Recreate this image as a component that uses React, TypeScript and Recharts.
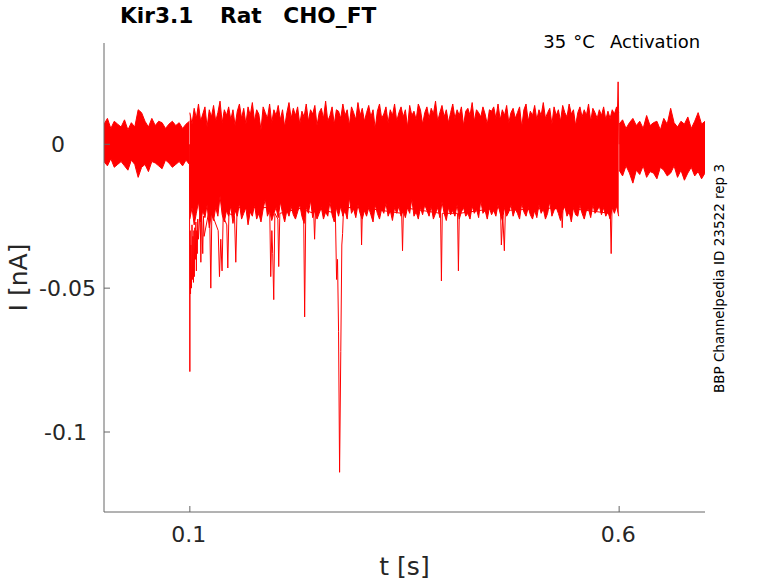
import React from "react";
import { ComposedChart, Area, Line, XAxis, YAxis } from "recharts";

// Current in pA (axis labels show nA), time in s
const X_TICKS = [0.1, 0.6];
const Y_TICKS_PA = [-100, -50, 0];

// Envelope of the sweeps before the step (0 - 0.0995 s)
const PRE_HI = [7, 9, 5.5, 8, 7, 6, 8.5, 5, 7.5, 6, 12, 11, 8, 6, 9, 6.5, 8, 7.5, 5.5, 7, 8, 6.5, 7.5, 5.5, 7, 8];
const PRE_LO = [-6, -7.5, -5, -8, -7, -6, -7.5, -9, -5.5, -7, -11.5, -8, -7, -9.5, -6, -6.5, -7.5, -8.5, -5.5, -6.5, -8, -7, -6, -7.5, -5.5, -7];

// Envelope during the step (0.1 - 0.5995 s)
const STEP_HI = [
  11, 7, 12.5, 9, 14, 8, 10.5, 13, 6, 12,
  9.5, 13.5, 8, 11, 15, 7.5, 12, 10, 13, 8.5,
  12, 6.5, 11.5, 14, 9, 12.5, 7, 13, 10, 14.5,
  8, 12, 10.5, 5, 13, 11, 9, 14, 7.5, 12,
  10, 13.5, 8.5, 12, 6, 11, 14.5, 9, 12.5, 10,
  13, 7, 11.5, 9.5, 14, 8, 12, 10.5, 13.5, 6.5,
  11, 12.5, 9, 15, 8, 10, 13, 7, 12, 11.5,
  9, 14, 10, 12, 6.5, 13, 11, 8.5, 14.5, 10,
  12.5, 8, 11, 13.5, 9.5, 12, 5.5, 11.5, 14, 9,
  10.5, 13, 7.5, 12, 10, 14, 8, 11, 13, 9.5,
  12, 6, 13.5, 10, 11.5, 8.5, 14, 12, 7, 11,
  13, 9, 12.5, 10.5, 15, 8, 11, 13.5, 9.5, 12,
  7.5, 11, 14, 9, 12, 10, 13, 6.5, 11.5, 12.5,
  10, 14.5, 8, 12, 11, 9.5, 13, 10.5, 7, 12,
  11.5, 13, 9, 14, 8.5, 12, 10, 13.5, 7.5, 11,
  12.5, 9, 11, 13, 6, 12, 14, 8, 11.5, 10,
  13.5, 8.5, 12, 10, 14.5, 9, 11, 12.5, 7, 13,
  10, 12, 8, 13.5, 11, 9.5, 14, 10.5, 12, 6.5,
  11, 13, 9.5, 12, 10, 14, 8, 12.5, 11, 9,
  12, 10, 13, 8.5, 11.5, 9, 12, 10.5, 13, 11,
];
const STEP_LO = [
  -26, -22, -28, -24, -20, -27, -23, -25.5, -21, -29,
  -24, -26.5, -22, -25, -18, -24.5, -27, -23, -25, -21.5,
  -27.5, -23, -25, -20.5, -26, -24, -22, -28, -23.5, -25,
  -21, -26, -24, -27, -22.5, -19, -25, -23, -26.5, -24,
  -22, -25.5, -20, -24, -27, -23, -25, -21.5, -24.5, -26,
  -23.5, -21, -25, -27.5, -22, -24, -19.5, -25.5, -23, -26,
  -24, -22, -26, -23.5, -25, -20, -24.5, -27, -22, -25,
  -21.5, -25, -23, -26, -18.5, -24, -22.5, -25.5, -21, -24,
  -26, -23, -25, -22, -24.5, -27, -21, -24, -26, -22.5,
  -24, -20.5, -25, -23, -26.5, -22, -24, -21.5, -25, -23,
  -25.5, -22, -24, -19, -25, -23.5, -26, -22, -24.5, -21,
  -23, -25, -21.5, -26, -24, -22, -25.5, -20, -24, -26.5,
  -22, -24.5, -23, -25, -21, -26, -23.5, -22, -25, -24,
  -26, -21.5, -24, -22.5, -25.5, -19.5, -24, -23, -26, -22,
  -24.5, -23, -25, -21, -24, -26.5, -22, -25, -23.5, -21,
  -25, -22.5, -24, -26, -20.5, -23.5, -25, -22, -24.5, -26,
  -23, -25.5, -21, -24, -22.5, -26, -24, -20, -25, -23,
  -22, -24, -26.5, -23, -21.5, -25, -23.5, -27, -22, -24.5,
  -25, -21, -24, -26, -23, -22.5, -25.5, -21, -24, -23,
  -21.5, -24.5, -22, -25, -23.5, -26, -22, -24, -21.5, -25,
];

// Envelope after the step (0.6 - 0.7 s)
const POST_HI = [7, 8.5, 5.5, 7.5, 9, 6.5, 8, 5.5, 10, 6.5, 7.5, 8, 5, 9, 7, 12.5, 7.5, 6, 8, 7, 9.5, 5.5, 8, 11, 7, 8];
const POST_LO = [-9, -11, -7.5, -10, -13.5, -9, -10.5, -7.5, -11.5, -9.5, -10, -12, -8, -9, -11, -10, -7.5, -11.5, -9, -12.5, -10, -8, -11, -9.5, -12, -10];

// Transient spikes of single sweeps
const SPIKE_T = [
  0.0995, 0.1, 0.1003, 0.1008, 0.1012, 0.1018, 0.1025, 0.103, 0.1036, 0.1042,
  0.1047, 0.1052, 0.1058, 0.1064, 0.107, 0.1076, 0.108, 0.1086, 0.1092, 0.11,
  0.112, 0.1128, 0.1136, 0.115, 0.1158, 0.1166, 0.123, 0.1244, 0.1256, 0.133,
  0.1345, 0.136, 0.1375, 0.1388, 0.143, 0.1442, 0.1455, 0.152, 0.1535, 0.155,
  0.193, 0.1942, 0.1955, 0.1965, 0.1977, 0.199, 0.2025, 0.2035, 0.2048, 0.2325,
  0.2337, 0.235, 0.2443, 0.2453, 0.2465, 0.2695, 0.2709, 0.272, 0.2732, 0.2744,
  0.2758, 0.277, 0.2779, 0.279, 0.2992, 0.3, 0.301, 0.3467, 0.3477, 0.3488,
  0.392, 0.393, 0.394, 0.4118, 0.4128, 0.4138, 0.4618, 0.4628, 0.4645, 0.4663,
  0.4675, 0.5327, 0.5337, 0.5347, 0.5897, 0.5907, 0.5917, 0.5975, 0.5988, 0.6,
];
const SPIKE_V = [
  0, -79, -30, -52, -35, -50, -28, -47, -32, -48,
  -30, -46, -29, -40, -27, -44, -30, -38, -26, -33,
  -22, -41, -24, -38, -25, -32, -22, -50, -24, -30,
  -46, -33, -44, -25, -28, -43, -24, -25, -41, -22,
  -22, -46, -30, -38, -54, -24, -26, -42.5, -24, -22,
  -60, -23, -24, -33, -22, -24, -47, -40, -65, -114,
  -72, -35, -31, -22, -22, -35, -22, -24, -37, -22,
  -24, -47.5, -24, -24, -44, -24, -22, -35, -25, -37,
  -23, -22, -29, -22, -24, -38, -22, 5, 21.7, 0,
];

const band = (start: number, end: number, hi: number[], lo: number[]) => {
  const n = Math.min(hi.length, lo.length);
  const out: { t: number; r: [number, number] }[] = [];
  for (let i = 0; i < n; i++) out.push({ t: start + ((end - start) * i) / (n - 1), r: [lo[i], hi[i]] });
  return out;
};

const preData = band(0, 0.0995, PRE_HI, PRE_LO);
const stepData = band(0.1, 0.5995, STEP_HI, STEP_LO);
const postData = band(0.6, 0.7, POST_HI, POST_LO);
const spikeData = SPIKE_T.map((t, i) => ({ t, v: SPIKE_V[i] }));

const FONT = "'DejaVu Sans', sans-serif";
const TXT = "#262626";
const AX = "#666";
const RED = "#ff0000";

const Y_LABEL_END: Record<string, number> = { "0": -39, "-0.05": -8, "-0.1": -17 };

const YTick = (p: any) => {
  const label = String(p.payload.value / 1000);
  return (
    <g>
      <line x1={p.x} x2={p.x + 6} y1={p.y} y2={p.y} stroke={AX} />
      <text x={p.x + (Y_LABEL_END[label] ?? -8)} y={p.y + 8} textAnchor="end" fontSize={22} fill={TXT} fontFamily={FONT}>
        {label}
      </text>
    </g>
  );
};

const XTick = (p: any) => (
  <g>
    <line x1={p.x} x2={p.x} y1={p.y} y2={p.y - 6} stroke={AX} />
    <text x={p.x - 1} y={p.y + 30} textAnchor="middle" fontSize={22} fill={TXT} fontFamily={FONT}>
      {String(p.payload.value)}
    </text>
  </g>
);

export default function App() {
  return (
    <div style={{ position: "absolute", left: 0, top: 0, width: 778, height: 583, background: "#fff" }}>
      <ComposedChart width={778} height={583} margin={{ top: 43, right: 73, bottom: 41, left: 44 }}>
        <XAxis
          dataKey="t"
          type="number"
          domain={[0, 0.7]}
          ticks={X_TICKS}
          height={30}
          tickSize={0}
          tickMargin={0}
          tickLine={false}
          axisLine={{ stroke: AX }}
          tick={<XTick />}
          allowDataOverflow
          interval={0}
        />
        <YAxis
          type="number"
          domain={[-127.8, 35.2]}
          ticks={Y_TICKS_PA}
          width={60}
          tickSize={0}
          tickMargin={0}
          tickLine={false}
          axisLine={{ stroke: AX }}
          tick={<YTick />}
          allowDataOverflow
          interval={0}
        />
        <Area data={preData} dataKey="r" type="linear" stroke={RED} strokeWidth={1} fill={RED} fillOpacity={1} isAnimationActive={false} dot={false} activeDot={false} />
        <Area data={stepData} dataKey="r" type="linear" stroke={RED} strokeWidth={1} fill={RED} fillOpacity={1} isAnimationActive={false} dot={false} activeDot={false} />
        <Area data={postData} dataKey="r" type="linear" stroke={RED} strokeWidth={1} fill={RED} fillOpacity={1} isAnimationActive={false} dot={false} activeDot={false} />
        <Line data={spikeData} dataKey="v" type="linear" stroke={RED} strokeWidth={1} isAnimationActive={false} dot={false} activeDot={false} />
      </ComposedChart>
      <svg width={778} height={583} style={{ position: "absolute", left: 0, top: 0, pointerEvents: "none" }} fontFamily={FONT}>
        <text y={23.3} fontSize={21.7} fontWeight="bold" fill="#000">
          <tspan x={120}>Kir3.1</tspan>
          <tspan x={220}>Rat</tspan>
          <tspan x={283.3}>CHO_FT</tspan>
        </text>
        <text y={47.7} fontSize={18} fill="#000">
          <tspan x={543.3}>35</tspan>
          <tspan x={573.3}>°C</tspan>
          <tspan x={610}>Activation</tspan>
        </text>
        <text x={404.5} y={575} fontSize={25} textAnchor="middle" fill={TXT}>t [s]</text>
        <text x={27} y={277.5} fontSize={25} textAnchor="middle" fill={TXT} transform="rotate(-90 27 277.5)">I [nA]</text>
        <text x={724} y={278.5} fontSize={13.5} textAnchor="middle" fill="#000" transform="rotate(-90 724 278.5)">BBP Channelpedia ID 23522 rep 3</text>
      </svg>
    </div>
  );
}
